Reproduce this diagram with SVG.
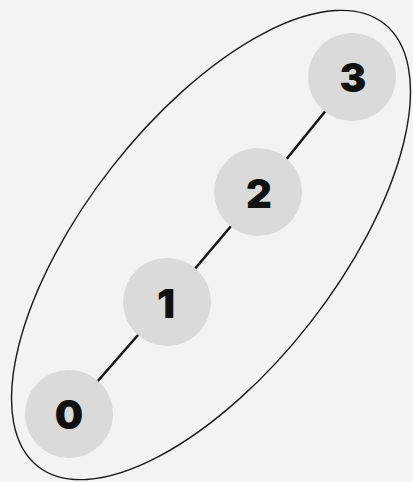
<svg xmlns="http://www.w3.org/2000/svg" width="413" height="482" viewBox="0 0 413 482">
  <style>
    .node circle { fill: #dadada; stroke: none; }
    .node text { font-family: Inter, "DejaVu Sans", sans-serif; font-weight: 900; font-size: 40px; fill: #111111; text-anchor: middle; }
    .edge { stroke: #151515; stroke-width: 2.5; fill: none; }
    .group { stroke: #1a1a1a; stroke-width: 1.4; fill: none; }
  </style>
  <rect width="413" height="482" fill="#f3f3f3"/>

  <!-- enclosing ellipse around the chain -->
  <ellipse class="group" cx="211" cy="245" rx="281" ry="126" transform="rotate(-52 211 245)"/>

  <!-- links of the chain -->
  <g id="edges">
    <line class="edge" x1="69" y1="414" x2="166" y2="303"/>
    <line class="edge" x1="166" y1="303" x2="259" y2="193"/>
    <line class="edge" x1="259" y1="193" x2="353" y2="77"/>
  </g>

  <g id="node-0" class="node">
    <circle cx="69" cy="414" r="44"/>
    <text x="69" y="428.5">0</text>
  </g>
  <g id="node-1" class="node">
    <circle cx="167" cy="302" r="44"/>
    <text x="166" y="317.5">1</text>
  </g>
  <g id="node-2" class="node">
    <circle cx="258" cy="192" r="44"/>
    <text x="259" y="207.5">2</text>
  </g>
  <g id="node-3" class="node">
    <circle cx="352" cy="77" r="44"/>
    <text x="353" y="91.5">3</text>
  </g>
</svg>
